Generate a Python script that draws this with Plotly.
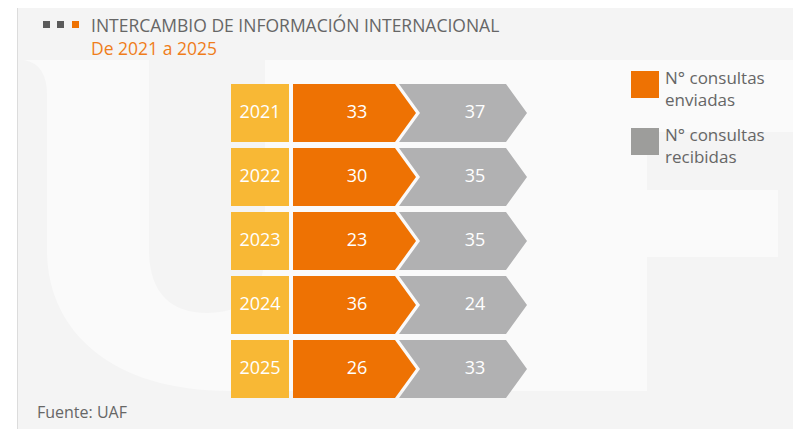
import plotly.graph_objects as go

# data
years = ["2021", "2022", "2023", "2024", "2025"]
enviadas = [33, 30, 23, 36, 26]
recibidas = [37, 35, 35, 24, 33]
legend_labels = ["N° consultas<br>enviadas", "N° consultas<br>recibidas"]

title = "INTERCAMBIO DE INFORMACIÓN INTERNACIONAL"
subtitle = "De 2021 a 2025"
source = "Fuente: UAF"

# colours
ORANGE = "#ee7203"
GRAY = "#b1b1b2"
YELLOW = "#f8b835"
LEGEND_GRAY = "#9d9d9b"
TEXT_GRAY = "#666666"
CARD_BG = "#f4f4f4"
MARK_BG = "#fafafa"
FONT = "Open Sans"

# the page body has an 8px margin, so the axes map straight onto page pixels
PAGE_W, PAGE_H, BODY = 801, 429, 8

# row geometry (page pixels)
ROW_TOP = 84
ROW_STEP = 64
ROW_H = 58

fig = go.Figure()

mids = []
for i in range(len(years)):
    top = ROW_TOP + i * ROW_STEP
    bot = top + ROW_H
    mid = (top + bot) / 2
    mids.append(mid)
    shapes_xy = [
        (YELLOW, [231, 289, 289, 231, 231], [top, top, bot, bot, top]),
        (ORANGE, [293, 395, 416, 395, 293, 293], [top, top, mid, bot, bot, top]),
        (GRAY, [399, 506, 527, 506, 399, 420, 399], [top, top, mid, bot, bot, mid, top]),
    ]
    for color, xs, ys in shapes_xy:
        fig.add_trace(go.Scatter(
            x=xs, y=ys, mode="lines", fill="toself", fillcolor=color,
            line=dict(width=0, color=color), hoverinfo="skip", showlegend=False,
        ))

label_font = dict(family=FONT, size=18, color="white")
for xpos, texts in [(260, years), (357, [str(v) for v in enviadas]), (475, [str(v) for v in recibidas])]:
    fig.add_trace(go.Scatter(
        x=[xpos] * len(texts), y=mids, mode="text", text=texts,
        textposition="middle center", textfont=label_font,
        hoverinfo="skip", showlegend=False,
    ))

shapes = [
    # card background
    dict(type="rect", x0=17, x1=810, y0=6, y1=440, fillcolor=CARD_BG,
         line=dict(width=0), layer="below"),
    dict(type="line", x0=17.5, x1=17.5, y0=6, y1=429, line=dict(color="#dcdcdc", width=1),
         layer="below"),
    # faint watermark letters
    dict(type="path", layer="below", fillcolor=MARK_BG, line=dict(width=0),
         path="M 24,60 L 801,60 L 801,132 L 647,132 L 647,190 L 778,190 L 778,257 "
              "L 647,257 L 647,391 L 230,391 C 110,391 47,330 47,250 L 47,95 "
              "Q 47,64 24,60 Z"),
    dict(type="path", layer="below", fillcolor=CARD_BG, line=dict(width=0),
         path="M 149,60 L 265,60 L 265,250 C 265,292 245,313 207,313 "
              "C 170,313 149,292 149,250 Z"),
    # title squares
    dict(type="rect", x0=43, x1=50, y0=21, y1=28, fillcolor="#5b5b5b", line=dict(width=0)),
    dict(type="rect", x0=57, x1=64, y0=21, y1=28, fillcolor="#5b5b5b", line=dict(width=0)),
    dict(type="rect", x0=72, x1=79, y0=21, y1=28, fillcolor=ORANGE, line=dict(width=0)),
    # legend squares
    dict(type="rect", x0=631, x1=659, y0=71, y1=98, fillcolor=ORANGE, line=dict(width=0)),
    dict(type="rect", x0=631, x1=659, y0=128, y1=155, fillcolor=LEGEND_GRAY, line=dict(width=0)),
]

annotations = [
    dict(x=89, y=36, xanchor="left", yanchor="middle", align="left", showarrow=False,
         text=f"{title}<br><span style='color:#ef7d1a'>{subtitle}</span>",
         font=dict(family=FONT, size=17.5, color=TEXT_GRAY)),
    dict(x=35, y=412, text=source, xanchor="left", yanchor="middle", showarrow=False,
         font=dict(family=FONT, size=16, color=TEXT_GRAY)),
]
for k, label in enumerate(legend_labels):
    annotations.append(dict(
        x=663, y=88 + k * 57, text=label, xanchor="left", yanchor="middle", align="left",
        showarrow=False, font=dict(family=FONT, size=17, color=TEXT_GRAY),
    ))

fig.update_layout(
    width=PAGE_W - BODY, height=PAGE_H - BODY,
    margin=dict(l=0, r=0, t=0, b=0),
    paper_bgcolor="white", plot_bgcolor="white",
    xaxis=dict(range=[BODY, PAGE_W], visible=False, fixedrange=True),
    yaxis=dict(range=[PAGE_H, BODY], visible=False, fixedrange=True),
    shapes=shapes, annotations=annotations, showlegend=False,
)

fig.write_html("out.html", config={"displayModeBar": False})
